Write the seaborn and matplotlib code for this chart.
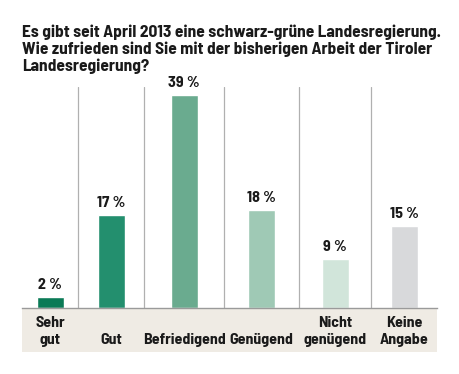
import matplotlib
matplotlib.use("Agg")
import matplotlib.pyplot as plt
import seaborn as sns
import numpy as np
import pandas as pd
from matplotlib.patches import Rectangle

# ----------------------------
# Data
# ----------------------------
categories = ["Sehr\ngut", "\nGut", "\nBefriedigend", "\nGenügend", "Nicht\ngenügend", "Keine\nAngabe"]
values = [2, 17, 39, 18, 9, 15]
colors = ["#0b7a56", "#238f6e", "#6aab8f", "#9fc9b5", "#d1e5da", "#d8d9db"]
title = ("Es gibt seit April 2013 eine schwarz-grüne Landesregierung.\n"
         "Wie zufrieden sind Sie mit der bisherigen Arbeit der Tiroler\n"
         "Landesregierung?")

# column widths of the layout (label-dependent, like the original graphic)
slot_widths = np.array([56, 66, 80, 75, 72, 66])
edges = np.concatenate([[0], np.cumsum(slot_widths)])
centers = (edges[:-1] + edges[1:]) / 2

df = pd.DataFrame({"pos": centers, "Kategorie": categories, "Wert": values})

sns.set_style("white")
plt.rcParams["font.family"] = ["Barlow Semi Condensed", "DejaVu Sans"]

fig = plt.figure(figsize=(4.6, 3.74), dpi=100)
ax = fig.add_axes([22 / 460, 1 - 308 / 374, 415 / 460, 221 / 374])

bar_w = 27 / np.diff(centers).min()
sns.barplot(
    data=df, x="pos", y="Wert", hue="Kategorie", native_scale=True,
    palette=colors, width=bar_w, legend=False, ax=ax, saturation=1,
    dodge=False
)

ax.set_ylim(0, 40.5)
ax.set_xlim(edges[0], edges[-1])

# value labels
for x, v in zip(centers, values):
    ax.text(x, v + 0.9, f"{v} %", ha="center", va="bottom",
            fontsize=11.5, fontweight="bold", color="#1a1a1a")

# separators
for e in edges[1:-1]:
    ax.axvline(e, color="#b0b0b0", lw=0.9, zorder=0)

for s in ["top", "right", "left"]:
    ax.spines[s].set_visible(False)
ax.spines["bottom"].set_color("#9a9a9a")
ax.spines["bottom"].set_linewidth(1)

ax.set_yticks([])
ax.set_xlabel("")
ax.set_ylabel("")
ax.tick_params(axis="x", length=0, pad=6)
ax.set_xticks(centers)
ax.set_xticklabels(categories, fontsize=11.5, fontweight="bold", color="#1a1a1a",
                   linespacing=1.2)

# beige label band
band = Rectangle((0, -0.2), 1, 0.2, transform=ax.transAxes,
                 facecolor="#efebe4", edgecolor="none", clip_on=False, zorder=-1)
ax.add_patch(band)

fig.text(22 / 460, 1 - 24 / 374, title, ha="left", va="top",
         fontsize=12.5, fontweight="bold", color="#1a1a1a", linespacing=1.15)

fig.savefig("out.png", dpi=100)
